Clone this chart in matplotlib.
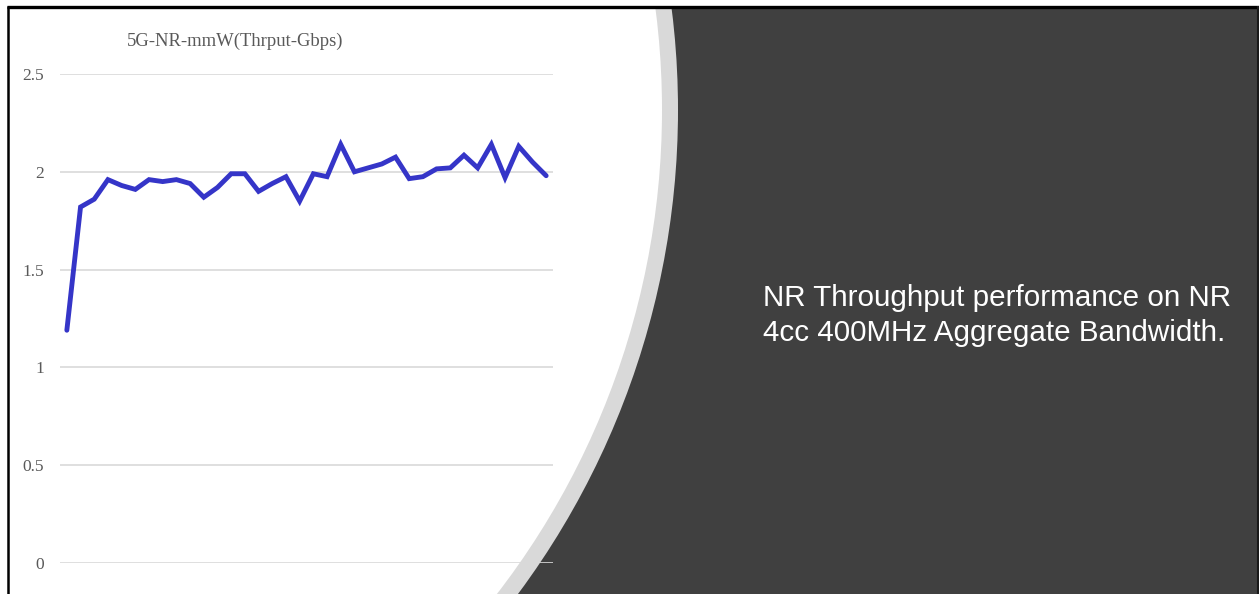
import matplotlib
matplotlib.use("Agg")
import matplotlib.pyplot as plt
from matplotlib.patches import Circle, Rectangle
import numpy as np

# Throughput samples (Gbps)
throughput = [1.19, 1.82, 1.86, 1.96, 1.93, 1.91, 1.96, 1.95, 1.96, 1.94,
              1.87, 1.92, 1.99, 1.99, 1.90, 1.94, 1.975, 1.85, 1.99, 1.975,
              2.14, 2.00, 2.02, 2.04, 2.075, 1.965, 1.975, 2.015, 2.02, 2.085,
              2.02, 2.14, 1.97, 2.13, 2.05, 1.98]
y_ticks = [0, 0.5, 1, 1.5, 2, 2.5]
y_tick_labels = ["0", "0.5", "1", "1.5", "2", "2.5"]
chart_title = "5G-NR-mmW(Thrput-Gbps)"
side_lines = ["NR Throughput performance on NR",
              "4cc 400MHz Aggregate Bandwidth."]

W, H = 1259, 594
fig = plt.figure(figsize=(W / 100, H / 100), dpi=100, facecolor="white")

# Slide background in pixel coordinates (y grows downward)
bg = fig.add_axes([0, 0, 1, 1])
bg.set_xlim(0, W)
bg.set_ylim(H, 0)
bg.axis("off")

frame = Rectangle((8, 7), W - 8, H - 7, facecolor="#404040", edgecolor="none")
bg.add_patch(frame)
band = Circle((-134, 110), 812, facecolor="#d9d9d9", edgecolor="none")
bg.add_patch(band)
band.set_clip_path(frame)
panel = Circle((-130, 110), 792, facecolor="white", edgecolor="none")
bg.add_patch(panel)
panel.set_clip_path(frame)

# Black frame lines
bg.plot([7, W], [6.5, 6.5], color="black", lw=2.4, solid_capstyle="butt")
bg.plot([8, 8], [6, H], color="black", lw=1.8, solid_capstyle="butt")
bg.plot([W - 1, W - 1], [6, H], color="#1a1a1a", lw=1.5, solid_capstyle="butt")

bg.text(235, 46, chart_title, family="Liberation Serif", fontsize=13.4,
        color="#595959", ha="center", va="baseline")

bg.text(763, 306, side_lines[0], family="Liberation Sans", fontsize=21.3,
        color="white", ha="left", va="baseline")
bg.text(763, 340.7, side_lines[1], family="Liberation Sans", fontsize=21.3,
        color="white", ha="left", va="baseline")

# Line chart
ax = fig.add_axes([60 / W, (H - 563) / H, 493 / W, 489 / H])
ax.set_facecolor("none")
x = np.arange(len(throughput))
ax.plot(x, throughput, color="#3535c8", lw=3.5, solid_joinstyle="miter",
        solid_capstyle="round", zorder=3)
ax.set_xlim(-0.5, len(throughput) - 0.5)
ax.set_ylim(0, 2.5)
ax.set_yticks(y_ticks)
ax.set_yticklabels(y_tick_labels, family="Liberation Serif", fontsize=12.5,
                   color="#595959")
ax.set_xticks([])
ax.tick_params(axis="y", length=0, pad=11.5)
for s in ax.spines.values():
    s.set_visible(False)
ax.grid(axis="y", color="#d9d9d9", lw=1.2)
ax.set_axisbelow(True)

fig.savefig("out.png", dpi=100, facecolor="white")
